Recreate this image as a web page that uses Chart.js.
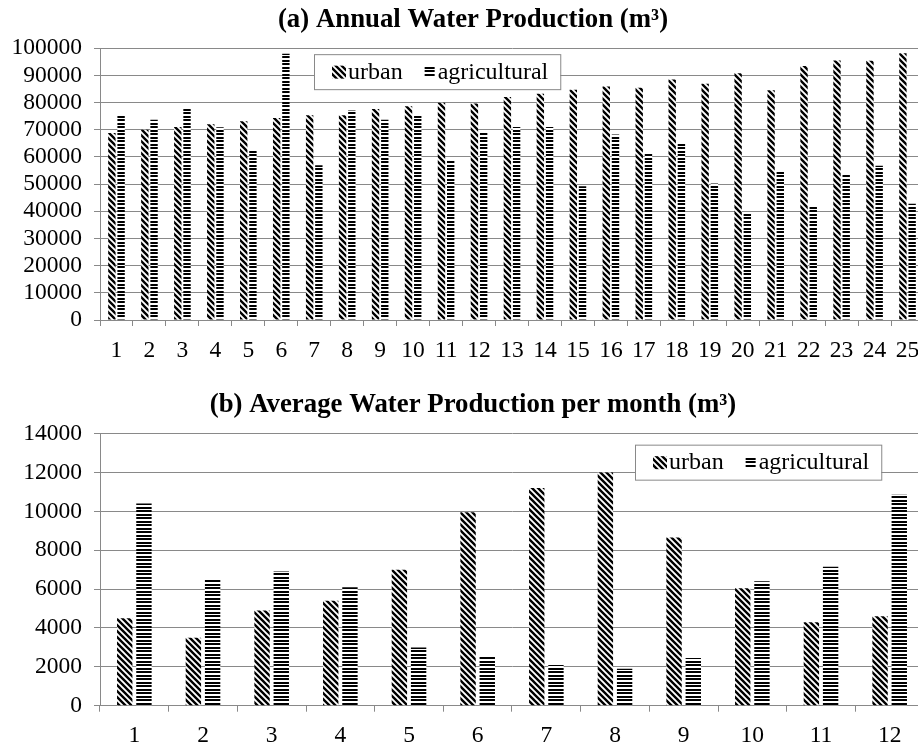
<!DOCTYPE html>
<html>
<head>
<meta charset="utf-8">
<script src="https://cdn.jsdelivr.net/npm/chart.js@4.4.1/dist/chart.umd.min.js"></script>
<style>
  html, body { margin: 0; padding: 0; background: #fff; overflow: hidden; width: 918px; height: 746px; }
  .box { position: absolute; left: 0; }
</style>
</head>
<body>
<div class="box" style="top:0"><canvas id="annualChart" width="946" height="370"></canvas></div>
<div class="box" style="top:370px"><canvas id="monthlyChart" width="946" height="376"></canvas></div>
<script>
// annual production, years 1..25
let years = ['1', '2', '3', '4', '5', '6', '7', '8', '9', '10', '11', '12', '13', '14', '15', '16', '17', '18', '19', '20', '21', '22', '23', '24', '25'];
let urbanAnnual = [68800, 70000, 71000, 72000, 73100, 74300, 75300, 75300, 77600, 78600, 79900, 79600, 82000, 83200, 84700, 85900, 85400, 88500, 86900, 90800, 84500, 93400, 95500, 95400, 98100];
let agriAnnual = [75300, 73700, 78300, 70900, 62700, 97900, 56900, 77100, 73700, 75300, 58800, 68800, 71000, 71000, 49200, 68200, 61200, 65500, 50200, 39700, 55100, 41600, 53600, 56700, 42800];

// average production per month
let months = ['1', '2', '3', '4', '5', '6', '7', '8', '9', '10', '11', '12'];
let urbanMonthly = [4500, 3500, 4900, 5400, 7000, 9950, 11200, 12000, 8650, 6050, 4300, 4600];
let agriMonthly = [10400, 6500, 6900, 6100, 3000, 2500, 2100, 1900, 2450, 6400, 7150, 10850];

let seriesNames = ['urban', 'agricultural'];

const serif = "'Liberation Serif', 'Times New Roman', serif";
const gridGrey = '#898989';

// hatch fills like the excel patterns
function diagPattern() {
  const c = document.createElement('canvas');
  c.width = 6; c.height = 6;
  const g = c.getContext('2d');
  g.fillStyle = '#fff';
  g.fillRect(0, 0, 6, 6);
  g.strokeStyle = '#000';
  g.lineWidth = 2.4;
  g.beginPath();
  g.moveTo(-3, -3); g.lineTo(9, 9);
  g.moveTo(-9, -3); g.lineTo(3, 9);
  g.moveTo(3, -3); g.lineTo(15, 9);
  g.stroke();
  return g.createPattern(c, 'repeat');
}
function horizPattern() {
  const c = document.createElement('canvas');
  c.width = 4; c.height = 7;
  const g = c.getContext('2d');
  g.fillStyle = '#fff';
  g.fillRect(0, 0, 4, 7);
  g.fillStyle = '#000';
  g.fillRect(0, 0, 4, 2);
  g.fillRect(0, 4, 4, 2);
  return g.createPattern(c, 'repeat');
}
const urbanFill = diagPattern();
const agriFill = horizPattern();

// legend box drawn inside plot area
const boxLegend = {
  id: 'boxLegend',
  afterDraw(chart, args, opts) {
    const ctx = chart.ctx;
    const area = chart.chartArea;
    const x0 = area.left + opts.dx, y0 = area.top + opts.dy, h = 35;
    ctx.save();
    ctx.font = '24px ' + serif;
    const w1 = ctx.measureText(seriesNames[0]).width;
    const w2 = ctx.measureText(seriesNames[1]).width;
    const w = 18 + 16 + w1 + 22 + 13 + w2 + 12;
    ctx.fillStyle = '#fff';
    ctx.fillRect(x0, y0, w, h);
    ctx.strokeStyle = gridGrey;
    ctx.lineWidth = 1;
    ctx.strokeRect(x0 + 0.5, y0 + 0.5, w, h);
    const cy = y0 + h / 2;
    let x = x0 + 18;
    ctx.fillStyle = urbanFill;
    ctx.fillRect(x, cy - 6, 14, 13);
    ctx.fillStyle = '#000';
    ctx.textBaseline = 'middle';
    ctx.fillText(seriesNames[0], x + 16, cy + 1);
    x = x + 16 + w1 + 22;
    ctx.fillStyle = agriFill;
    ctx.fillRect(x, cy - 5, 10, 10);
    ctx.fillStyle = '#000';
    ctx.fillText(seriesNames[1], x + 13, cy + 1);
    ctx.restore();
  }
};

function makeConfig(labels, urban, agri, yMax, yStep, title, titlePad, xHeight, xPad, legendPos) {
  return {
    type: 'bar',
    data: {
      labels: labels,
      datasets: [
        { label: seriesNames[0], data: urban, backgroundColor: urbanFill, borderWidth: 0, categoryPercentage: 0.56, barPercentage: 0.8 },
        { label: seriesNames[1], data: agri, backgroundColor: agriFill, borderWidth: 0, categoryPercentage: 0.56, barPercentage: 0.8 }
      ]
    },
    options: {
      responsive: false,
      devicePixelRatio: 1,
      animation: false,
      layout: { padding: 0 },
      plugins: {
        legend: { display: false },
        tooltip: { enabled: false },
        title: {
          display: true,
          text: title,
          color: '#000',
          font: { family: serif, size: 26.8, weight: 'bold' },
          padding: titlePad
        },
        boxLegend: legendPos
      },
      scales: {
        x: {
          grid: { offset: true, drawOnChartArea: false, color: gridGrey, tickLength: 6 },
          border: { color: gridGrey },
          ticks: { color: '#000', font: { family: serif, size: 23.5 }, padding: xPad, autoSkip: false, maxRotation: 0 },
          afterFit: s => { s.height = xHeight; }
        },
        y: {
          min: 0,
          max: yMax,
          grid: { color: gridGrey, tickLength: 6 },
          border: { color: gridGrey },
          ticks: { stepSize: yStep, autoSkip: false, color: '#000', font: { family: serif, size: 23.5 }, padding: 12, callback: v => String(v) },
          afterFit: s => { s.width = 100; }
        },
        // empty strip on the right so the plot runs past the window edge
        yRight: {
          position: 'right',
          min: 0,
          max: yMax,
          grid: { display: false },
          border: { display: false },
          ticks: { display: false },
          afterFit: s => { s.width = 22; }
        }
      }
    },
    plugins: [boxLegend]
  };
}

let annualChart = new Chart(
  document.getElementById('annualChart'),
  makeConfig(years, urbanAnnual, agriAnnual, 100000, 10000,
    ['(a) Annual Water Production (m\u00B3)'], { top: 4, bottom: 12 }, 50, 11, { dx: 214, dy: 6 })
);

let monthlyChart = new Chart(
  document.getElementById('monthlyChart'),
  makeConfig(months, urbanMonthly, agriMonthly, 14000, 2000,
    ['(b) Average Water Production per month (m\u00B3)'], { top: 19, bottom: 12.5 }, 40.3, 10, { dx: 535, dy: 11 })
);
</script>
</body>
</html>
